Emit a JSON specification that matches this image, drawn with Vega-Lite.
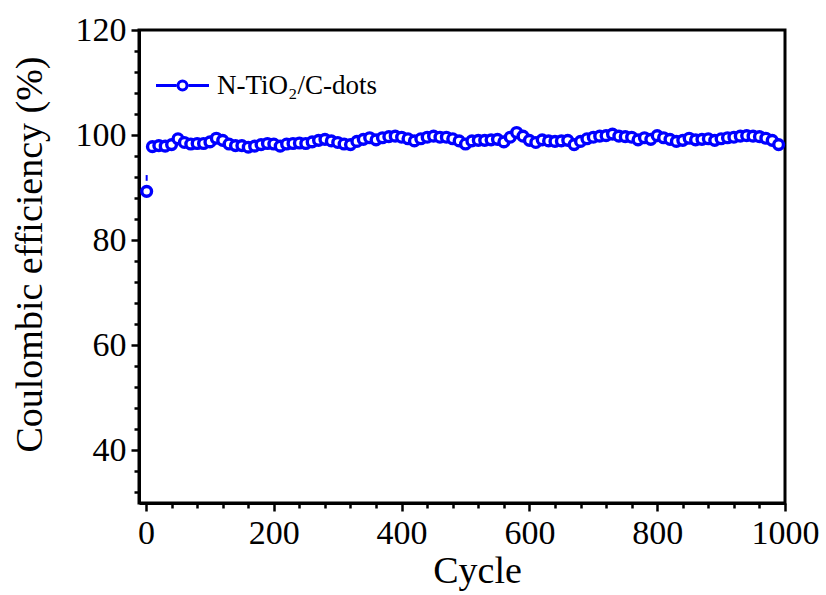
{
  "$schema": "https://vega.github.io/schema/vega-lite/v6.json",
  "width": 646,
  "height": 473,
  "autosize": {"type": "none"},
  "padding": {"left": 139, "top": 30, "right": 41, "bottom": 92},
  "background": "white",
  "config": {
    "view": {"stroke": "black", "strokeWidth": 3},
    "axis": {
      "grid": false,
      "labelFont": "Liberation Serif",
      "labelFontSize": 34,
      "labelColor": "black",
      "titleFont": "Liberation Serif",
      "titleFontSize": 38,
      "titleFontWeight": "normal",
      "titleColor": "black",
      "tickColor": "black",
      "tickWidth": 2.5,
      "domainColor": "black",
      "domainWidth": 3
    },
    "legend": {
      "labelFont": "Liberation Serif",
      "labelFontSize": 27,
      "labelColor": "black"
    }
  },
  "datasets": {
    "ce": [
      {"cycle": 1, "ce": 89.3},
      {"cycle": 10, "ce": 97.8}, {"cycle": 20, "ce": 98.0}, {"cycle": 30, "ce": 97.9}, {"cycle": 40, "ce": 98.2},
      {"cycle": 50, "ce": 99.3}, {"cycle": 60, "ce": 98.6}, {"cycle": 70, "ce": 98.3}, {"cycle": 80, "ce": 98.4},
      {"cycle": 90, "ce": 98.4}, {"cycle": 100, "ce": 98.7}, {"cycle": 110, "ce": 99.4}, {"cycle": 120, "ce": 99.0},
      {"cycle": 130, "ce": 98.3}, {"cycle": 140, "ce": 98.0}, {"cycle": 150, "ce": 98.0}, {"cycle": 160, "ce": 97.7},
      {"cycle": 170, "ce": 97.9}, {"cycle": 180, "ce": 98.2}, {"cycle": 190, "ce": 98.4}, {"cycle": 200, "ce": 98.3},
      {"cycle": 210, "ce": 97.9}, {"cycle": 220, "ce": 98.3}, {"cycle": 230, "ce": 98.4}, {"cycle": 240, "ce": 98.5},
      {"cycle": 250, "ce": 98.4}, {"cycle": 260, "ce": 98.7}, {"cycle": 270, "ce": 99.0}, {"cycle": 280, "ce": 99.2},
      {"cycle": 290, "ce": 98.9}, {"cycle": 300, "ce": 98.6}, {"cycle": 310, "ce": 98.3}, {"cycle": 320, "ce": 98.2},
      {"cycle": 330, "ce": 98.8}, {"cycle": 340, "ce": 99.2}, {"cycle": 350, "ce": 99.5}, {"cycle": 360, "ce": 99.1},
      {"cycle": 370, "ce": 99.5}, {"cycle": 380, "ce": 99.7}, {"cycle": 390, "ce": 99.8}, {"cycle": 400, "ce": 99.6},
      {"cycle": 410, "ce": 99.3}, {"cycle": 420, "ce": 98.9}, {"cycle": 430, "ce": 99.3}, {"cycle": 440, "ce": 99.6},
      {"cycle": 450, "ce": 99.8}, {"cycle": 460, "ce": 99.6}, {"cycle": 470, "ce": 99.6}, {"cycle": 480, "ce": 99.3},
      {"cycle": 490, "ce": 98.9}, {"cycle": 500, "ce": 98.3}, {"cycle": 510, "ce": 98.9}, {"cycle": 520, "ce": 99.0},
      {"cycle": 530, "ce": 99.0}, {"cycle": 540, "ce": 99.1}, {"cycle": 550, "ce": 99.2}, {"cycle": 560, "ce": 98.7},
      {"cycle": 570, "ce": 99.6}, {"cycle": 580, "ce": 100.5}, {"cycle": 590, "ce": 99.8}, {"cycle": 600, "ce": 99.0},
      {"cycle": 610, "ce": 98.6}, {"cycle": 620, "ce": 99.1}, {"cycle": 630, "ce": 98.9}, {"cycle": 640, "ce": 98.8},
      {"cycle": 650, "ce": 98.9}, {"cycle": 660, "ce": 99.0}, {"cycle": 670, "ce": 98.2}, {"cycle": 680, "ce": 98.8},
      {"cycle": 690, "ce": 99.3}, {"cycle": 700, "ce": 99.6}, {"cycle": 710, "ce": 99.8}, {"cycle": 720, "ce": 99.9},
      {"cycle": 730, "ce": 100.2}, {"cycle": 740, "ce": 99.8}, {"cycle": 750, "ce": 99.7}, {"cycle": 760, "ce": 99.6},
      {"cycle": 770, "ce": 99.1}, {"cycle": 780, "ce": 99.5}, {"cycle": 790, "ce": 99.2}, {"cycle": 800, "ce": 99.9},
      {"cycle": 810, "ce": 99.5}, {"cycle": 820, "ce": 99.2}, {"cycle": 830, "ce": 98.8}, {"cycle": 840, "ce": 99.0},
      {"cycle": 850, "ce": 99.4}, {"cycle": 860, "ce": 99.1}, {"cycle": 870, "ce": 99.2}, {"cycle": 880, "ce": 99.3},
      {"cycle": 890, "ce": 99.0}, {"cycle": 900, "ce": 99.3}, {"cycle": 910, "ce": 99.5}, {"cycle": 920, "ce": 99.6},
      {"cycle": 930, "ce": 99.8}, {"cycle": 940, "ce": 99.9}, {"cycle": 950, "ce": 99.8}, {"cycle": 960, "ce": 99.7},
      {"cycle": 970, "ce": 99.4}, {"cycle": 980, "ce": 99.0}, {"cycle": 990, "ce": 98.2}
    ],
    "err": [
      {"cycle": 1, "lo": 91.3, "hi": 92.4}
    ]
  },
  "layer": [
    {
      "data": {"name": "err"},
      "mark": {"type": "rule", "color": "#0000ff", "strokeWidth": 2},
      "encoding": {
        "x": {
          "field": "cycle", "type": "quantitative",
          "scale": {"domain": [-11, 1000], "nice": false, "zero": false},
          "axis": {
            "orient": "bottom", "title": null, "labels": false, "domain": false,
            "values": [40, 80, 120, 160, 240, 280, 320, 360, 440, 480, 520, 560, 640, 680, 720, 760, 840, 880, 920, 960],
            "tickSize": 5
          }
        },
        "y": {
          "field": "lo", "type": "quantitative",
          "scale": {"domain": [30, 120], "nice": false, "zero": false},
          "axis": {
            "orient": "left", "title": null, "labels": false, "domain": false,
            "values": [32, 36, 44, 48, 52, 56, 64, 68, 72, 76, 84, 88, 92, 96, 104, 108, 112, 116],
            "tickSize": 5
          }
        },
        "y2": {"field": "hi"}
      }
    },
    {
      "data": {"name": "ce"},
      "transform": [{"filter": "datum.cycle >= 10"}],
      "mark": {"type": "line", "color": "#0000ff", "strokeWidth": 1.5},
      "encoding": {
        "x": {
          "field": "cycle", "type": "quantitative",
          "axis": {
            "orient": "bottom", "title": "Cycle", "format": "d",
            "values": [0, 200, 400, 600, 800, 1000],
            "tickSize": 8, "labelPadding": 5, "titlePadding": 2, "labelFlush": false,
            "titleX": 338
          }
        },
        "y": {
          "field": "ce", "type": "quantitative",
          "axis": {
            "orient": "left", "title": "Coulombic efficiency (%)",
            "values": [40, 60, 80, 100, 120],
            "tickSize": 8, "labelPadding": 5, "titlePadding": 26,
            "titleY": 224
          }
        }
      }
    },
    {
      "data": {"name": "ce"},
      "mark": {"type": "point", "shape": "circle", "fill": "white", "fillOpacity": 1, "strokeWidth": 3.4, "size": 95, "opacity": 1},
      "encoding": {
        "x": {"field": "cycle", "type": "quantitative", "axis": null},
        "y": {"field": "ce", "type": "quantitative", "axis": null},
        "stroke": {
          "datum": "N-TiO₂/C-dots",
          "type": "nominal",
          "scale": {"range": ["#0000ff"]},
          "legend": {
            "title": null,
            "orient": "none",
            "legendX": 30,
            "legendY": 42,
            "padding": 0,
            "symbolType": "M-5.3,0L-1.2,0M1.2,0L5.3,0M-0.9,0A0.9,0.9,0,1,1,0.9,0A0.9,0.9,0,1,1,-0.9,0",
            "symbolSize": 100,
            "symbolStrokeWidth": 3,
            "symbolFillColor": "white",
            "labelOffset": 21
          }
        }
      }
    }
  ],
  "resolve": {"axis": {"x": "independent", "y": "independent"}}
}
